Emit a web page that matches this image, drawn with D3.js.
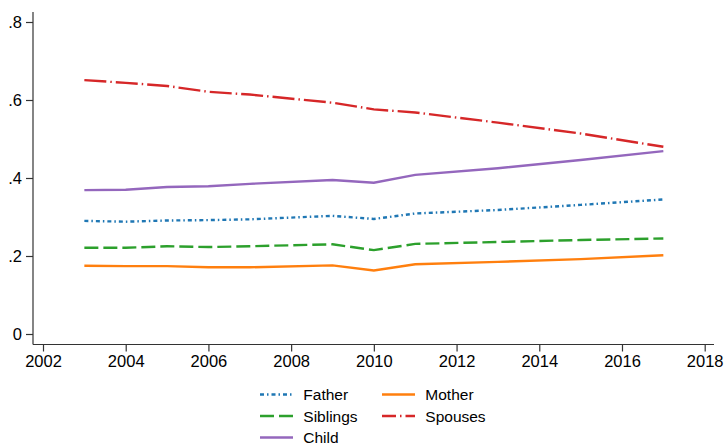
<!DOCTYPE html>
<html><head><meta charset="utf-8">
<script src="https://cdn.jsdelivr.net/npm/d3@7"></script>
<style>body{margin:0;background:#fff}svg{display:block}text{font-family:Arial,"Liberation Sans",sans-serif;fill:#000}</style>
</head><body><div id="chart"></div>
<script>
const years = [2003,2004,2005,2006,2007,2009,2010,2011,2013,2015,2017];
const father   = [.290,.288,.291,.292,.294,.303,.295,.309,.318,.331,.345];
const mother   = [.175,.174,.174,.171,.171,.176,.163,.179,.185,.192,.202];
const siblings = [.221,.221,.225,.223,.225,.230,.215,.231,.236,.241,.245];
const spouses  = [.651,.644,.636,.621,.614,.593,.576,.568,.542,.514,.480];
const child    = [.369,.370,.377,.379,.385,.395,.388,.408,.425,.446,.469];
const xTicks = [2002,2004,2006,2008,2010,2012,2014,2016,2018];
const yTicks = [0,.2,.4,.6,.8];
const yTickLabels = ["0",".2",".4",".6",".8"];

const series = [
  {name:"Father", values:father, color:"#1f77b4", dash:"4,3,1.5,3"},
  {name:"Mother", values:mother, color:"#ff7f0e", dash:null},
  {name:"Siblings", values:siblings, color:"#2ca02c", dash:"14,5"},
  {name:"Spouses", values:spouses, color:"#d62728", dash:"22,4,1.5,4"},
  {name:"Child", values:child, color:"#9467bd", dash:null}
];

const W=724,H=445;
const svg=d3.select("#chart").append("svg").attr("width",W).attr("height",H);
const x=d3.scaleLinear().domain([2002,2018]).range([43,704.7]);
const y=d3.scaleLinear().domain([0,.8]).range([334,22]);
const axisY=344.5, axisX=33;

// axes
const xa=svg.append("g").attr("transform",`translate(0,${axisY})`)
  .call(d3.axisBottom(x).tickValues(xTicks).tickFormat(d3.format("d")).tickSize(7).tickPadding(4));
xa.select(".domain").attr("d",`M${axisX},0H714`);
const ya=svg.append("g").attr("transform",`translate(${axisX},0)`)
  .call(d3.axisLeft(y).tickValues(yTicks).tickFormat((d,i)=>yTickLabels[i]).tickSize(7).tickPadding(4));
ya.select(".domain").attr("d",`M0,12V${axisY}`);
svg.selectAll(".domain").attr("stroke","#333").attr("stroke-width",1.2);
svg.selectAll(".tick line").attr("stroke","#333").attr("stroke-width",1.2);
svg.selectAll(".tick text").attr("font-size","16.5px").attr("fill","#000").attr("font-family","Arial,'Liberation Sans',sans-serif");

const line=d3.line().x((d,i)=>x(years[i])).y(d=>y(d));
series.forEach(s=>{
  svg.append("path").datum(s.values).attr("d",line).attr("fill","none")
    .attr("stroke",s.color).attr("stroke-width",2.4)
    .attr("stroke-dasharray",s.dash);
});

// legend
const legPos={Father:[260,394.5],Mother:[382,394.5],Siblings:[260,416],Spouses:[382,416],Child:[260,437.5]};
series.forEach(s=>{
  const [lx,ly]=legPos[s.name];
  svg.append("line").attr("x1",lx).attr("x2",lx+33).attr("y1",ly).attr("y2",ly)
    .attr("stroke",s.color).attr("stroke-width",2.4).attr("stroke-dasharray",s.dash? (s.name==="Spouses"?"14,4,1.5,4":s.dash):null);
  svg.append("text").attr("x",lx+43.3).attr("y",ly).attr("dy","0.36em").attr("font-size","15.5px").text(s.name);
});
</script></body></html>
